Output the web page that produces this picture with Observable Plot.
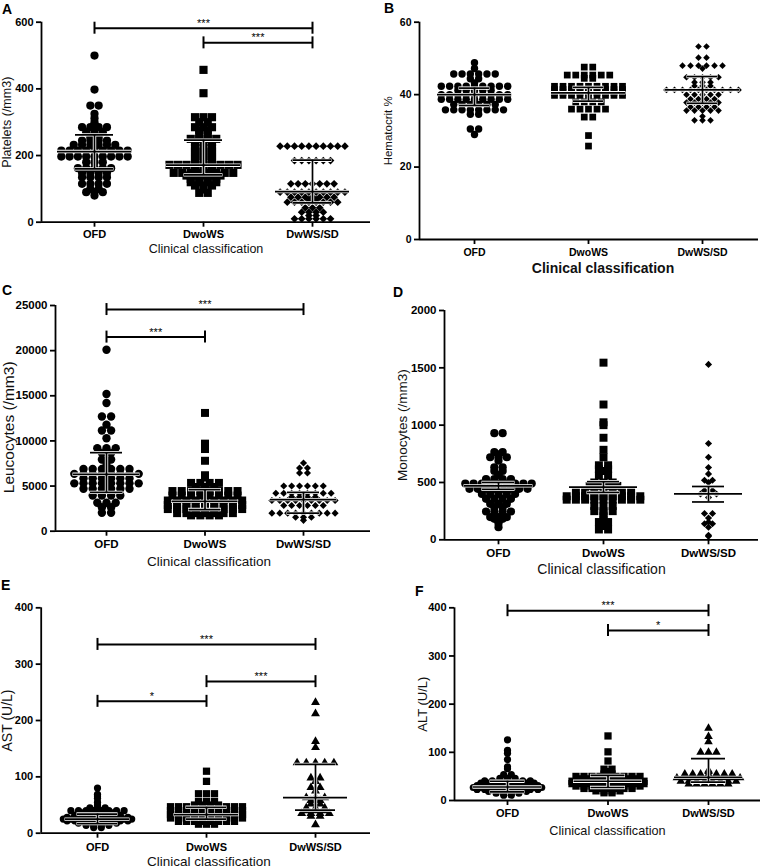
<!DOCTYPE html>
<html><head><meta charset="utf-8">
<script src="https://cdn.jsdelivr.net/npm/d3@7"></script>
<script src="https://cdn.jsdelivr.net/npm/@observablehq/plot@0.6"></script>
<style>
html,body{margin:0;padding:0;background:#fff;overflow:hidden;}
#page{position:relative;width:760px;height:868px;font-family:"Liberation Sans",Arial,sans-serif;background:#fff;}
#page svg{position:absolute;left:0;top:0;}
.letter{position:absolute;font-weight:bold;font-size:14px;line-height:14px;color:#000;}
</style></head><body><div id="page"></div>
<script>
const groups = ["OFD", "DwoWS", "DwWS/SD"];

// ---- A: Platelets (/mm3)
const platOFD = [500, 398, 350, 350, 325, 312, 300, 292, 285, 285, 285, 285, 270, 270, 270, 255, 255, 245, 245, 245, 245, 232, 232, 232, 232, 232, 232, 215, 215, 215, 215, 215, 215, 215, 215, 215, 197, 197, 197, 197, 197, 197, 197, 197, 197, 180, 180, 180, 162, 162, 162, 162, 162, 148, 148, 148, 148, 135, 135, 135, 135, 115, 115, 115, 115, 100, 100, 90, 90, 90, 80];
const platDwoWS = [457, 387, 315, 315, 315, 300, 300, 285, 285, 285, 276, 276, 262, 262, 250, 250, 250, 250, 240, 240, 240, 222, 222, 222, 212, 212, 212, 198, 198, 198, 188, 188, 188, 172, 172, 172, 172, 172, 172, 172, 172, 172, 160, 160, 160, 148, 148, 148, 148, 148, 148, 148, 148, 140, 140, 140, 140, 140, 130, 130, 130, 130, 120, 120, 120, 120, 110, 110, 110, 98, 88, 88];
const platDwWS = [228, 228, 228, 228, 228, 228, 228, 228, 228, 228, 185, 185, 185, 185, 185, 185, 115, 115, 115, 115, 115, 115, 115, 90, 90, 90, 90, 90, 90, 90, 90, 90, 90, 75, 75, 75, 75, 75, 75, 75, 68, 68, 60, 60, 60, 60, 60, 60, 60, 60, 43, 43, 43, 30, 30, 30, 30, 20, 20, 10, 10, 10, 10, 10, 10];
const platMedian = [212, 171, 92];
const platQ1 = [160, 142, 58];
const platQ3 = [262, 246, 186];
const platBrackets = [[0, 2, 582, "***"], [1, 2, 538, "***"]];
const platTicks = [0, 200, 400, 600];

// ---- B: Hematocrit %
const hemOFD = [48.8, 47.2, 45.7, 45.7, 45.7, 45.7, 45.7, 45.7, 44.4, 44.4, 43.2, 42.3, 42.3, 42.3, 42.3, 42.3, 42.3, 42.3, 42.3, 42.3, 41.2, 41.2, 41.2, 41.2, 41.2, 40.0, 40.0, 40.0, 40.0, 40.0, 40.0, 40.0, 40.0, 40.0, 38.7, 38.7, 38.7, 38.7, 38.7, 38.7, 38.7, 38.7, 38.7, 37.3, 37.3, 37.3, 37.3, 37.3, 37.3, 35.8, 35.8, 35.8, 35.8, 35.8, 35.8, 35.8, 35.8, 34.6, 34.6, 30.5, 30.5, 29.0];
const hemDwoWS = [47.6, 47.6, 45.4, 45.4, 45.4, 45.4, 45.4, 45.4, 44.5, 44.5, 42.3, 42.3, 42.3, 42.3, 42.3, 42.3, 42.3, 42.3, 42.3, 41.4, 41.4, 41.4, 41.4, 41.4, 41.4, 41.4, 41.4, 41.4, 40.6, 40.6, 40.6, 40.6, 40.6, 40.6, 40.6, 40.6, 40.6, 39.8, 39.8, 39.8, 39.8, 39.8, 39.8, 39.8, 39.8, 39.8, 38.0, 38.0, 38.0, 38.0, 36.0, 36.0, 36.0, 36.0, 36.0, 33.8, 33.8, 28.7, 25.8];
const hemDwWS = [53.3, 53.3, 50.2, 50.2, 48.0, 48.0, 48.0, 48.0, 48.0, 48.0, 47.2, 44.8, 44.8, 44.8, 44.8, 44.8, 43.4, 43.4, 43.4, 42.4, 42.4, 42.4, 41.3, 41.3, 41.3, 41.3, 41.3, 41.3, 41.3, 41.3, 41.3, 41.3, 40.0, 40.0, 40.0, 40.0, 40.0, 38.8, 38.8, 38.8, 38.8, 37.8, 37.8, 37.8, 37.8, 37.8, 36.6, 36.6, 36.6, 36.6, 35.6, 35.6, 35.6, 35.6, 35.6, 34.0, 32.9, 32.9, 32.9];
const hemMedian = [40.0, 40.5, 41.3];
const hemQ1 = [37.0, 38.2, 37.6];
const hemQ3 = [41.8, 42.0, 45.0];
const hemBrackets = [];
const hemTicks = [0, 20, 40, 60];

// ---- C: Leucocytes (/mm3)
const leuOFD = [20100, 15200, 14200, 12700, 12700, 11800, 11150, 11150, 10300, 9200, 9200, 9200, 8650, 8650, 7950, 7950, 7450, 6900, 6900, 6900, 6900, 6900, 6900, 6350, 6350, 6350, 6350, 6350, 6350, 6350, 6350, 5850, 5850, 5850, 5850, 5850, 5850, 5300, 5300, 5300, 5300, 5300, 5300, 5300, 5300, 4700, 4700, 4700, 4700, 4700, 4700, 3950, 3950, 3950, 3950, 3150, 3150, 3150, 2650, 2650, 2050, 2050];
const leuDwoWS = [13100, 9700, 9100, 7800, 6200, 5950, 5350, 5350, 5350, 5350, 4900, 4900, 4900, 4450, 4450, 4450, 4450, 4450, 4450, 4450, 4450, 3950, 3950, 3950, 3950, 3950, 3950, 3950, 3950, 3400, 3400, 3400, 3400, 3400, 3400, 3400, 3400, 3400, 2900, 2900, 2900, 2900, 2900, 2900, 2900, 2900, 2900, 2450, 2450, 2450, 2450, 2450, 2450, 2450, 2450, 2450, 2000, 2000, 2000, 2000, 2000, 2000, 2000, 1750, 1750, 1750, 1750];
const leuDwWS = [7550, 7000, 7000, 6450, 6450, 5000, 5000, 5000, 5000, 5000, 5000, 4200, 4200, 4200, 4200, 4200, 4200, 4200, 4200, 3800, 3800, 3800, 3800, 3400, 3400, 3400, 3400, 3400, 3400, 3400, 3400, 3400, 2850, 2850, 2850, 2850, 2850, 2850, 2000, 2000, 2000, 2000, 2000, 2000, 2000, 2000, 2000, 1550, 1550, 1550, 1200];
const leuMedian = [6300, 3300, 3500];
const leuQ1 = [4300, 2400, 2000];
const leuQ3 = [8700, 4600, 4300];
const leuBrackets = [[0, 2, 24550, "***"], [0, 1, 21500, "***"]];
const leuTicks = [0, 5000, 10000, 15000, 20000, 25000];

// ---- D: Monocytes (/mm3)
const monOFD = [930, 930, 765, 765, 745, 720, 720, 720, 690, 633, 633, 600, 600, 565, 530, 530, 530, 530, 490, 490, 490, 490, 490, 490, 490, 490, 490, 445, 445, 445, 445, 445, 445, 445, 445, 400, 400, 400, 400, 400, 357, 357, 357, 357, 314, 314, 314, 285, 285, 247, 247, 247, 247, 198, 198, 198, 183, 183, 145, 110];
const monDwoWS = [1545, 1180, 1025, 1000, 890, 785, 720, 650, 650, 615, 615, 600, 560, 560, 500, 500, 500, 470, 470, 470, 470, 420, 420, 420, 420, 420, 420, 420, 380, 380, 380, 380, 380, 380, 380, 380, 380, 350, 350, 350, 350, 350, 350, 350, 350, 350, 295, 295, 295, 250, 250, 250, 228, 205, 170, 155, 155, 120, 90, 90];
const monDwWS = [1530, 840, 720, 630, 575, 520, 520, 500, 430, 430, 400, 400, 400, 370, 230, 230, 190, 155, 140, 140, 110, 40, 30];
const monMean = [470, 460, 400];
const monLow = [440, 413, 330];
const monHigh = [500, 507, 465];
const monBrackets = [];
const monTicks = [0, 500, 1000, 1500, 2000];

// ---- E: AST (U/L)
const astOFD = [80, 69, 66, 62, 55, 50, 45, 45, 45, 40, 40, 40, 40, 40, 40, 40, 40, 36, 36, 36, 36, 36, 32, 32, 32, 32, 32, 32, 32, 28, 28, 28, 28, 28, 28, 28, 28, 28, 25, 25, 25, 25, 25, 25, 25, 25, 25, 25, 22, 22, 22, 22, 22, 22, 22, 22, 22, 18, 18, 18, 18, 18, 18, 14, 14, 14, 14, 10, 10];
const astDwoWS = [110, 92, 70, 70, 70, 56, 56, 56, 50, 50, 50, 50, 47, 47, 47, 47, 47, 47, 47, 47, 47, 47, 40, 40, 40, 40, 40, 40, 40, 40, 40, 40, 33, 33, 33, 33, 33, 33, 33, 33, 33, 33, 27, 27, 27, 27, 27, 27, 27, 27, 27, 27, 21, 21, 21, 21, 21, 21, 21, 21, 16, 16, 16];
const astDwWS = [232, 212, 163, 152, 125, 125, 125, 125, 125, 98, 98, 92, 81, 81, 75, 63, 63, 63, 58, 58, 52, 52, 45, 45, 45, 40, 40, 40, 35, 35, 35, 35, 30, 30, 15];
const astMedian = [25, 33, 63];
const astQ1 = [17, 25, 41];
const astQ3 = [34, 46, 122];
const astBrackets = [[0, 2, 335, "***"], [1, 2, 269, "***"], [0, 1, 234, "*"]];
const astTicks = [0, 100, 200, 300, 400];

// ---- F: ALT (U/L)
const altOFD = [126, 104, 98, 85, 70, 66, 54, 54, 46, 46, 46, 41, 41, 41, 41, 41, 41, 41, 36, 36, 36, 36, 36, 36, 36, 36, 31, 31, 31, 31, 31, 31, 31, 31, 31, 27, 27, 27, 27, 27, 27, 27, 27, 27, 27, 23, 23, 23, 23, 23, 23, 23, 23, 23, 19, 19, 19, 19, 19, 19, 15, 15, 15, 15, 11, 11];
const altDwoWS = [134, 101, 82, 65, 65, 60, 55, 55, 50, 50, 50, 50, 50, 50, 50, 50, 50, 45, 45, 45, 45, 45, 45, 45, 45, 40, 40, 40, 40, 40, 40, 40, 40, 40, 40, 35, 35, 35, 35, 35, 35, 35, 35, 35, 35, 30, 30, 30, 30, 30, 30, 30, 30, 30, 25, 25, 25, 25, 25, 25, 25, 20, 20, 20, 20, 16, 16];
const altDwWS = [150, 133, 122, 100, 100, 100, 63, 60, 55, 55, 55, 55, 55, 55, 55, 47, 47, 47, 47, 47, 47, 47, 47, 47, 40, 40, 40, 40, 40, 40, 40, 40, 34, 34, 34, 34, 34, 34];
const altMedian = [28, 40, 48];
const altQ1 = [18, 27, 38];
const altQ3 = [40, 52, 87];
const altBrackets = [[0, 2, 394, "***"], [1, 2, 353, "*"]];
const altTicks = [0, 100, 200, 300, 400];

const xTitle = "Clinical classification";

const panels = [
  {letter: "A", lx: 2, ly: 1.5, values: [platOFD, platDwoWS, platDwWS], mid: platMedian, lo: platQ1, hi: platQ3, brackets: platBrackets, ticks: platTicks, domain: [0, 600], ytitle: "Platelets (/mm3)",
   symbols: ["circle", "square", "diamond2"], r: [4.1, 4.6, 3.5], sp: [8.3, 8.5, 7.2],
   L: 41, R: 370, T: 21.7, B: 221.7, c0: 94, c2: 312, tickFont: 11, xTickPad: 2.5,
   ytSize: 12.5, ytDx: -35, ytDy: 0, xtSize: 12.5, xtDy: 26.5, xtDx: 0, xtWeight: "normal", half: [37, 19]},
  {letter: "B", lx: 384, ly: 1.2, values: [hemOFD, hemDwoWS, hemDwWS], mid: hemMedian, lo: hemQ1, hi: hemQ3, brackets: hemBrackets, ticks: hemTicks, domain: [0, 60], ytitle: "Hematocrit %",
   symbols: ["circle", "square", "diamond2"], r: [3.7, 3.8, 3.0], sp: [8.3, 8.5, 8.0],
   L: 419, R: 758, T: 21.7, B: 239, c0: 474, c2: 702, tickFont: 10.5, xTickPad: 4,
   ytSize: 11.5, ytDx: -31, ytDy: 0, xtSize: 14, xtDy: 29.5, xtDx: 14, xtWeight: "bold", half: [37, 15]},
  {letter: "C", lx: 2, ly: 283, values: [leuOFD, leuDwoWS, leuDwWS], mid: leuMedian, lo: leuQ1, hi: leuQ3, brackets: leuBrackets, ticks: leuTicks, domain: [0, 25000], ytitle: "Leucocytes (/mm3)",
   symbols: ["circle", "square", "diamond2"], r: [4.2, 4.5, 3.2], sp: [9.2, 9.3, 7.9],
   L: 55, R: 370, T: 305, B: 530.7, c0: 106, c2: 303, tickFont: 11.5, xTickPad: 4,
   ytSize: 15.5, ytDx: -46, ytDy: 9, xtSize: 13.5, xtDy: 30.5, xtDx: -4, xtWeight: "normal", half: [33, 16]},
  {letter: "D", lx: 393, ly: 285, values: [monOFD, monDwoWS, monDwWS], mid: monMean, lo: monLow, hi: monHigh, brackets: monBrackets, ticks: monTicks, domain: [0, 2000], ytitle: "Monocytes (/mm3)",
   symbols: ["circle", "square", "diamond2"], r: [4.1, 4.5, 3.2], sp: [8.3, 9.2, 8.0],
   L: 444, R: 758, T: 310, B: 539.3, c0: 498, c2: 708, tickFont: 11.5, xTickPad: 4,
   ytSize: 13.5, ytDx: -42, ytDy: 0, xtSize: 14, xtDy: 30, xtDx: 0, xtWeight: "normal", half: [34, 16]},
  {letter: "E", lx: 1, ly: 578, values: [astOFD, astDwoWS, astDwWS], mid: astMedian, lo: astQ1, hi: astQ3, brackets: astBrackets, ticks: astTicks, domain: [0, 400], ytitle: "AST (U/L)",
   symbols: ["circle", "square", "triangle"], r: [3.6, 4.1, 3.3], sp: [7.6, 8.0, 9.2],
   L: 40.7, R: 370, T: 607.3, B: 832.7, c0: 97, c2: 315, tickFont: 11, xTickPad: 4.5,
   ytSize: 14, ytDx: -34, ytDy: 0, xtSize: 13.5, xtDy: 28.3, xtDx: 3, xtWeight: "normal", half: [32, 20]},
  {letter: "F", lx: 415, ly: 584, values: [altOFD, altDwoWS, altDwWS], mid: altMedian, lo: altQ1, hi: altQ3, brackets: altBrackets, ticks: altTicks, domain: [0, 400], ytitle: "ALT (U/L)",
   symbols: ["circle", "square", "triangle"], r: [3.6, 4.1, 3.2], sp: [7.6, 8.0, 7.9],
   L: 454, R: 760, T: 607.3, B: 800, c0: 507, c2: 708, tickFont: 11, xTickPad: 4,
   ytSize: 13, ytDx: -32, ytDy: 0, xtSize: 12.7, xtDy: 30.7, xtDx: 0, xtWeight: "normal", half: [34, 17]}
];

// Scatter layout (as in the original dot plot): points sharing a value sit side by side,
// centred on their category, with a fixed pixel spacing.
function rowLayout(values, gi, spacingPx, step) {
  const counts = d3.rollup(values, v => v.length, v => v);
  const seen = new Map();
  return values.map(v => {
    const k = seen.get(v) || 0;
    seen.set(v, k + 1);
    const n = counts.get(v);
    return {gi, v, x: gi + ((k - (n - 1) / 2) * spacingPx) / step};
  });
}

const page = document.getElementById("page");
const W = 760, H = 868;
const FONT = "'Liberation Sans', Arial, sans-serif";

for (const p of panels) {
  const s = (p.c2 - p.c0) / 2;            // pixels between categories
  const d0 = -(p.c0 - p.L) / s;
  const d1 = 2 + (p.R - p.c2) / s;
  const stats = groups.map((g, i) => ({i, m: p.mid[i], lo: p.lo[i], hi: p.hi[i]}));
  const lineMarks = (stroke, sw, ext) => [
    Plot.ruleY(stats, {x1: "i", x2: "i", y: "m", insetLeft: -(p.half[0] + ext), insetRight: -(p.half[0] + ext), stroke, strokeWidth: sw}),
    Plot.ruleY(stats, {x1: "i", x2: "i", y: "lo", insetLeft: -(p.half[1] + ext), insetRight: -(p.half[1] + ext), stroke, strokeWidth: sw}),
    Plot.ruleY(stats, {x1: "i", x2: "i", y: "hi", insetLeft: -(p.half[1] + ext), insetRight: -(p.half[1] + ext), stroke, strokeWidth: sw}),
    Plot.ruleX(stats, {x: "i", y1: "lo", y2: "hi", stroke, strokeWidth: sw})
  ];
  const dotMarks = groups.map((g, i) =>
    Plot.dot(rowLayout(p.values[i], i, p.sp[i], s),
      {x: "x", y: "v", r: p.r[i], symbol: p.symbols[i], fill: "black", stroke: "none"})
  );
  const br = p.brackets;
  const chart = Plot.plot({
    width: W, height: H,
    marginTop: p.T, marginBottom: H - p.B,
    marginLeft: p.L, marginRight: W - p.R,
    style: {background: "transparent", fontFamily: FONT, color: "black", overflow: "visible"},
    x: {domain: [d0, d1], axis: null},
    y: {domain: p.domain, axis: null},
    marks: [
      ...dotMarks,
      ...lineMarks("white", 3.4, 0.5),
      ...lineMarks("black", 1.7, 0),
      Plot.ruleY(br, {x1: d => d[0], x2: d => d[1], y: d => d[2], stroke: "black", strokeWidth: 2}),
      Plot.ruleX(br, {x: d => d[0], y1: d => d[2], y2: d => d[2], insetTop: -6, insetBottom: -6, stroke: "black", strokeWidth: 2}),
      Plot.ruleX(br, {x: d => d[1], y1: d => d[2], y2: d => d[2], insetTop: -6, insetBottom: -6, stroke: "black", strokeWidth: 2}),
      Plot.text(br, {x: d => (d[0] + d[1]) / 2, y: d => d[2], text: d => d[3], dy: -5, fontSize: 11, fill: "black"}),
      Plot.ruleX([d0], {y1: p.domain[0], y2: p.domain[1], stroke: "black", strokeWidth: 1.8}),
      Plot.ruleY([p.domain[0]], {stroke: "black", strokeWidth: 1.8}),
      Plot.axisY({ticks: p.ticks, tickFormat: d => String(d), tickSize: 5, tickPadding: 3, strokeWidth: 1.8, fontSize: p.tickFont, fontWeight: "bold", fill: "black", label: null}),
      Plot.axisX({ticks: [0, 1, 2], tickFormat: i => groups[i], tickSize: 5, tickPadding: p.xTickPad, strokeWidth: 1.8, fontSize: p.tickFont, fontWeight: "bold", fill: "black", label: null}),
      Plot.text([p.ytitle], {frameAnchor: "left", text: d => d, rotate: -90, dx: p.ytDx, dy: p.ytDy, textAnchor: "middle", lineAnchor: "middle", fontSize: p.ytSize, fill: "#111"}),
      Plot.text([xTitle], {frameAnchor: "bottom", text: d => d, dx: p.xtDx, dy: p.xtDy, textAnchor: "middle", lineAnchor: "middle", fontSize: p.xtSize, fontWeight: p.xtWeight, fill: "#111"})
    ]
  });
  page.appendChild(chart);

  const lab = document.createElement("div");
  lab.className = "letter";
  lab.style.left = p.lx + "px";
  lab.style.top = p.ly + "px";
  lab.textContent = p.letter;
  page.appendChild(lab);
}
</script>
</body></html>
